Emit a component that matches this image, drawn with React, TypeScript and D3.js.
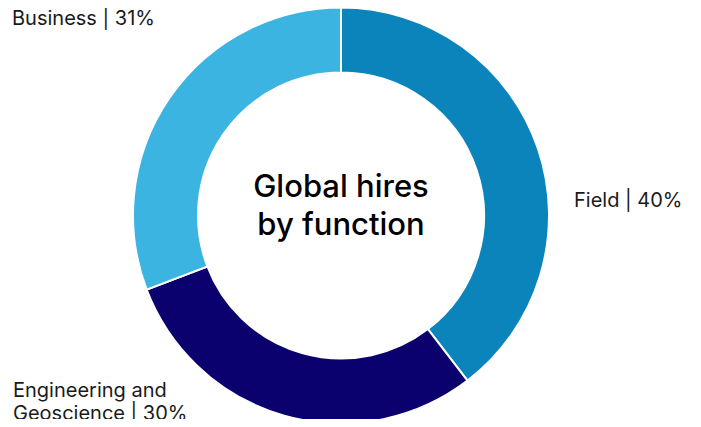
import React, { useEffect, useRef } from "react";
import { select, pie, arc } from "d3";

// share of global hires, clockwise from 12 o'clock
const functions = ["Field", "Engineering and Geoscience", "Business"];
const shares = [39.6, 29.6, 30.8];
const shareLabels = ["40%", "30%", "31%"];
const colors = ["#0b84bb", "#0a006e", "#3cb4e2"];
const titleLines = ["Global hires", "by function"];

const width = 701;
const height = 427;

function DonutChart() {
    const svgRef = useRef<SVGSVGElement>(null);

    useEffect(() => {
        const svg = select(svgRef.current);
        svg.selectAll("*").remove();

        const cx = 341;
        const cy = 215.5;
        const outer = 208;
        const inner = 143;

        const data = functions.map((name, i) => ({ name, value: shares[i], label: shareLabels[i], color: colors[i] }));
        const pieGen = pie<any>().value(d => d.value).sort(null);
        const arcGen = arc<any>().innerRadius(inner).outerRadius(outer);

        const g = svg.append("g").attr("transform", `translate(${cx},${cy})`);
        g.selectAll("path")
            .data(pieGen(data))
            .join("path")
            .attr("d", arcGen)
            .attr("fill", d => d.data.color)
            .attr("stroke", "#fff")
            .attr("stroke-width", 2);

        // centre title
        g.append("text")
            .attr("text-anchor", "middle")
            .attr("font-size", 31)
            .attr("font-weight", 500)
            .attr("fill", "#000")
            .selectAll("tspan")
            .data(titleLines)
            .join("tspan")
            .attr("x", 0)
            .attr("y", (d, i) => -18.5 + i * 38)
            .text(d => d);

        // slice labels
        const labels = svg.append("g").attr("font-size", 20).attr("fill", "#1a1a1a");
        labels.append("text").attr("x", 574).attr("y", 207)
            .text(`${functions[0]} | ${shareLabels[0]}`);
        labels.append("text").attr("x", 13).attr("y", 397).text("Engineering and");
        labels.append("text").attr("x", 13).attr("y", 419.5).text(`Geoscience | ${shareLabels[1]}`);
        labels.append("text").attr("x", 12).attr("y", 25)
            .text(`${functions[2]} | ${shareLabels[2]}`);
    }, []);

    return <svg ref={svgRef} width={width} height={height} style={{ fontFamily: "Inter, sans-serif", display: "block" }} />;
}

export default function App() {
    return (
        <div style={{ margin: -8 }}>
            <DonutChart />
        </div>
    );
}
